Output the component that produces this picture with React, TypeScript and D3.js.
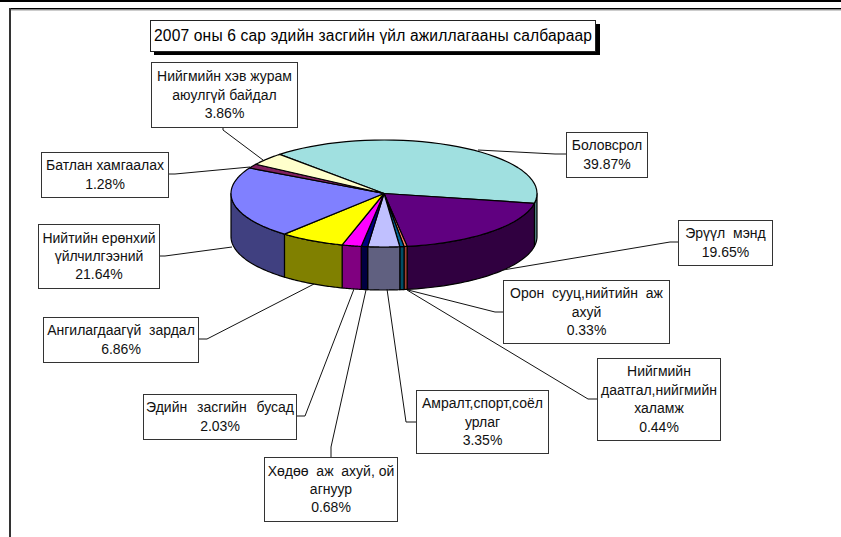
import React from "react";
import * as d3 from "d3";

const categories = ["Боловсрол","Эрүүл мэнд","Орон сууц,нийтийн аж ахуй","Нийгмийн даатгал,нийгмийн халамж","Амралт,спорт,соёл урлаг","Хөдөө аж ахуй, ой агнуур","Эдийн засгийн бусад","Ангилагдаагүй зардал","Нийтийн ерөнхий үйлчилгээний","Батлан хамгаалах","Нийгмийн хэв журам аюулгүй байдал"];
const values = [39.87,19.65,0.33,0.44,3.35,0.68,2.03,6.86,21.64,1.28,3.86];
const topColors = ["#A0E0E0","#600080","#FF8060","#006699","#C0C0FF","#000080","#FF00FF","#FFFF00","#8080FF","#802060","#FFFFCC"];
const wallColors = ["#508080","#300040","#A04030","#004D66","#606080","#000040","#800080","#808000","#404080","#401030","#808066"];
const labelLines = [["Боловсрол"],["Эрүүл  мэнд"],["Орон  сууц,нийтийн  аж","ахуй"],["Нийгмийн","даатгал,нийгмийн","халамж"],["Амралт,спорт,соёл","урлаг"],["Хөдөө  аж  ахуй, ой","агнуур"],["Эдийн  засгийн  бусад"],["Ангилагдаагүй  зардал"],["Нийтийн ерөнхий","үйлчилгээний"],["Батлан хамгаалах"],["Нийгмийн хэв журам","аюулгүй байдал"]];
const title = "2007 оны 6 сар эдийн засгийн үйл ажиллагааны салбараар";

// label box: x0, y0, x1, y1
const boxes = [[566,132,647,177],[678,220,772,265],[503,280,669,343],[597,358,720,440],[416,390,548,453],[264,457,397,521],[143,394,296,439],[43,317,198,362],[38,224,159,288],[41,152,168,197],[151,62,297,127]];
const leaders = [[[566,154],[555,154],[478,150]],[[678,242],[670,242],[503,270]],[[503,312],[495,312],[408,290]],[[597,399],[588,399],[407,290]],[[416,422],[406,422],[387,289]],[[331,457],[331,447],[366,290]],[[296,416],[305,416],[354,289]],[[198,339],[207,339],[314,284]],[[159,256],[165,256],[232,247]],[[168,174],[175,174],[250,167]],[[223,127],[223,130],[263,160]]];

const W = 841, H = 537, CX = 384, CY = 193.5, RX = 153, RY = 53.5, DEPTH = 43;
const START = (-43 * Math.PI) / 180;
const FONT = "'Liberation Sans', Arial, sans-serif";

const arcs = d3.pie<number>().sort(null).startAngle(START).endAngle(START + 2 * Math.PI)(values);
const sx = d3.scaleLinear().domain([-1, 1]).range([CX - RX, CX + RX]);
const sy = d3.scaleLinear().domain([-1, 1]).range([CY + RY, CY - RY]);
const pt = (a: number, dz = 0): [number, number] => [sx(Math.sin(a)), sy(Math.cos(a)) + dz];
const arcPts = (a0: number, a1: number, dz = 0) =>
  d3.range(0, 41).map((i) => pt(a0 + ((a1 - a0) * i) / 40, dz));
const line = d3.line();

const topPath = (a0: number, a1: number) => line([[CX, CY], ...arcPts(a0, a1)])! + "Z";
// portion of a slice lying on the front half of the rim
const wallPaths = (a0: number, a1: number) => {
  const out: string[] = [];
  const lo = Math.PI / 2, hi = (3 * Math.PI) / 2;
  const s = Math.max(a0, lo), e = Math.min(a1, hi);
  if (e > s) out.push(line([...arcPts(s, e), ...arcPts(s, e, DEPTH).reverse()])! + "Z");
  return out;
};

export default function App() {
  return (
    <svg width={W} height={H} viewBox={`0 0 ${W} ${H}`} style={{ position: "absolute", left: 0, top: 0, background: "#fff" }} fontFamily={FONT}>
      <rect x={0} y={0} width={W} height={2} fill="#000" />
      <rect x={9} y={8} width={W - 9} height={1.5} fill="#000" />
      <rect x={9} y={9.5} width={W - 9} height={1} fill="#999" />
      <rect x={9} y={8} width={2} height={H - 8} fill="#333" />

      <rect x={154} y={24} width={446} height={31} fill="#000" />
      <rect x={150.5} y={20.5} width={445} height={31} fill="#fff" stroke="#222" />
      <text x={373} y={41} fontSize={15.6} textAnchor="middle" textLength={438} lengthAdjust="spacing">{title}</text>

      {arcs.map((d, i) => wallPaths(d.startAngle, d.endAngle).map((p, j) => (
        <path key={`w${i}-${j}`} d={p} fill={wallColors[i]} stroke="#000" strokeWidth={1.2} strokeLinejoin="round" />
      )))}
      {arcs.map((d, i) => (
        <path key={`t${i}`} d={topPath(d.startAngle, d.endAngle)} fill={topColors[i]} stroke="#000" strokeWidth={1.2} strokeLinejoin="round" />
      ))}

      {leaders.map((l, i) => (
        <path key={`l${i}`} d={line(l as [number, number][])!} fill="none" stroke="#111" strokeWidth={1} />
      ))}

      {categories.map((c, i) => {
        const [x0, y0, x1, y1] = boxes[i];
        const lines = [...labelLines[i], `${values[i].toFixed(2)}%`];
        const pitch = 18.4;
        const first = (y0 + y1) / 2 - ((lines.length - 1) * pitch) / 2 + 5;
        return (
          <g key={c}>
            <rect x={x0 + 0.5} y={y0 + 0.5} width={x1 - x0} height={y1 - y0} fill="#fff" stroke="#333" />
            {lines.map((t, k) => (
              <text key={k} x={(x0 + x1) / 2 + 0.5} y={first + k * pitch} fontSize={14} textAnchor="middle" fill="#111" wordSpacing={t.includes("бусад") ? 1 : 0} style={{ whiteSpace: "pre" }}>{t}</text>
            ))}
          </g>
        );
      })}
    </svg>
  );
}
